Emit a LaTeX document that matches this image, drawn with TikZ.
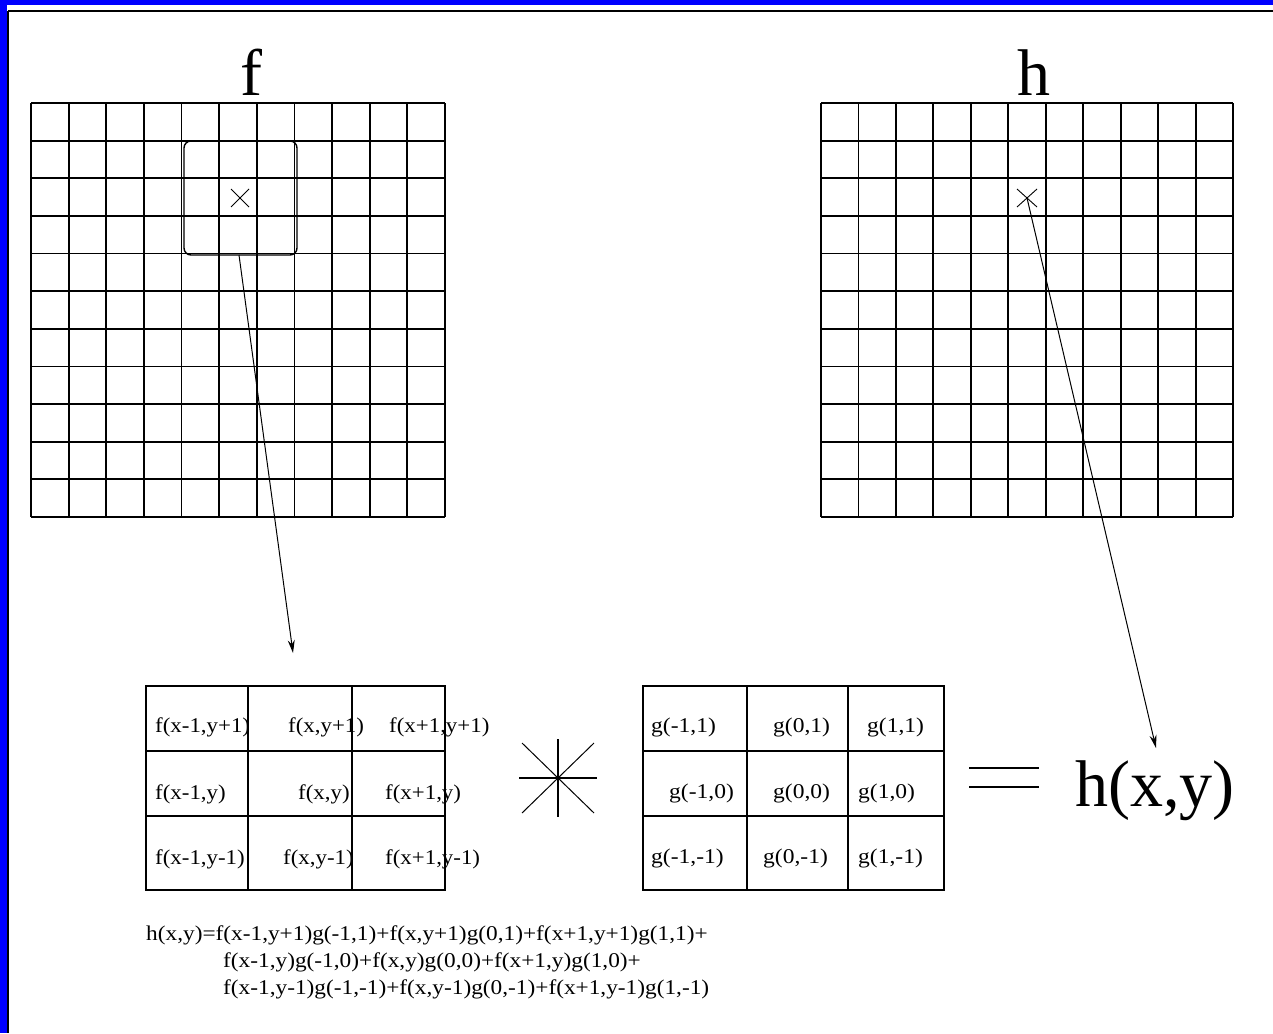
\documentclass[tikz,border=0pt]{standalone}
\usepackage{fontspec}
\usepackage{graphicx}
\setmainfont{Liberation Serif}
\usetikzlibrary{arrows.meta,calc}
% text set slightly wide, as in the printed figure
\newcommand{\widetext}[2]{\scalebox{#1}[1]{#2}}
\begin{document}
\begin{tikzpicture}[x=1pt,y=-1pt,
  gridline/.style={line width=1.9pt},
  cellbox/.style={line width=1.9pt},
  cell/.style={font=\fontsize{21}{21}\selectfont, anchor=base west, inner sep=0pt},
  eqline/.style={font=\fontsize{21}{21}\selectfont, anchor=base west, inner sep=0pt},
  big/.style={font=\fontsize{66}{66}\selectfont, inner sep=0pt},
  cross/.style={line width=0.9pt},
  ptr/.style={line width=1pt, -{Stealth[length=13pt,width=7pt]}}
]
\useasboundingbox (0,0) rectangle (1273,1033);
\fill[white] (0,0) rectangle (1273,1033);

% window frame
\fill[blue] (0,0) rectangle (1273,5);
\fill[blue] (0,0) rectangle (7,1033);
\draw[line width=2pt] (8,11) -- (1273,11);
\draw[line width=2pt] (8,11) -- (8,1033);

% image f and image h, 11 x 11 pixels each
\foreach \i in {0,...,11} {
  \draw[gridline] ({31+\i*414/11},103) -- ({31+\i*414/11},517);
  \draw[gridline] (31,{103+\i*414/11}) -- (445,{103+\i*414/11});
  \draw[gridline] ({821+\i*412/11},103) -- ({821+\i*412/11},517);
  \draw[gridline] (821,{103+\i*414/11}) -- (1233,{103+\i*414/11});
}
\node[big, anchor=base] (flabel) at (251,95) {f};
\node[big, anchor=base] (hlabel) at (1034,95) {h};

% 3x3 neighbourhood around (x,y) in f
\draw[line width=1.4pt, rounded corners=7pt] (184,141) rectangle (297,255);
\coordinate (fpt) at (240,198);
\draw[cross] ($(fpt)+(-9,-9)$) -- ($(fpt)+(9,9)$);
\draw[cross] ($(fpt)+(9,-9)$) -- ($(fpt)+(-9,9)$);
\coordinate (win) at (239,255);

% target pixel in h
\coordinate (hpt) at (1027,198);
\draw[cross] ($(hpt)+(-10,-9)$) -- ($(hpt)+(10,9)$);
\draw[cross] ($(hpt)+(10,-9)$) -- ($(hpt)+(-10,9)$);

% neighbourhood values of f
\draw[cellbox] (146,686) rectangle (445,890);
\draw[cellbox] (248,686) -- (248,890) (352,686) -- (352,890)
               (146,751) -- (445,751) (146,816) -- (445,816);
\coordinate (fin) at (293,653);
\node[cell] (f11) at (155,732) {\widetext{1.09}{f(x-1,y+1)}};
\node[cell] (f12) at (288,732) {\widetext{1.09}{f(x,y+1)}};
\node[cell] (f13) at (389,732) {\widetext{1.09}{f(x+1,y+1)}};
\node[cell] (f21) at (155,799) {\widetext{1.09}{f(x-1,y)}};
\node[cell] (f22) at (298,799) {\widetext{1.09}{f(x,y)}};
\node[cell] (f23) at (385,799) {\widetext{1.09}{f(x+1,y)}};
\node[cell] (f31) at (155,864) {\widetext{1.09}{f(x-1,y-1)}};
\node[cell] (f32) at (283,864) {\widetext{1.09}{f(x,y-1)}};
\node[cell] (f33) at (385,864) {\widetext{1.09}{f(x+1,y-1)}};

% convolution operator
\coordinate (conv) at (558,778);
\draw[line width=1.5pt] ($(conv)+(0,-39)$) -- ($(conv)+(0,39)$);
\draw[line width=1.5pt] ($(conv)+(-39,0)$) -- ($(conv)+(39,0)$);
\draw[line width=1pt] ($(conv)+(-36,-35)$) -- ($(conv)+(36,35)$);
\draw[line width=1pt] ($(conv)+(36,-35)$) -- ($(conv)+(-36,35)$);

% kernel g
\draw[cellbox] (643,686) rectangle (944,890);
\draw[cellbox] (747,686) -- (747,890) (848,686) -- (848,890)
               (643,751) -- (944,751) (643,816) -- (944,816);
\node[cell] (g11) at (651,732) {\widetext{1.12}{g(-1,1)}};
\node[cell] (g12) at (773,732) {\widetext{1.12}{g(0,1)}};
\node[cell] (g13) at (867,732) {\widetext{1.12}{g(1,1)}};
\node[cell] (g21) at (669,798) {\widetext{1.12}{g(-1,0)}};
\node[cell] (g22) at (773,798) {\widetext{1.12}{g(0,0)}};
\node[cell] (g23) at (858,798) {\widetext{1.12}{g(1,0)}};
\node[cell] (g31) at (651,863) {\widetext{1.12}{g(-1,-1)}};
\node[cell] (g32) at (763,863) {\widetext{1.12}{g(0,-1)}};
\node[cell] (g33) at (858,863) {\widetext{1.12}{g(1,-1)}};

% result
\draw[line width=1.8pt] (969,768) -- (1039,768) (969,787) -- (1039,787);
\node[big, anchor=base west] (hxy) at (1075,806) {h(x,y)};
\coordinate (hin) at (1156,748);

% pointers
\draw[ptr] (win) -- (fin);
\draw[ptr] (hpt) -- (hin);

% expanded sum
\node[eqline] (eq1) at (146,940) {\widetext{1.11}{h(x,y)=f(x-1,y+1)g(-1,1)+f(x,y+1)g(0,1)+f(x+1,y+1)g(1,1)+}};
\node[eqline] (eq2) at (223,967) {\widetext{1.11}{f(x-1,y)g(-1,0)+f(x,y)g(0,0)+f(x+1,y)g(1,0)+}};
\node[eqline] (eq3) at (223,994) {\widetext{1.11}{f(x-1,y-1)g(-1,-1)+f(x,y-1)g(0,-1)+f(x+1,y-1)g(1,-1)}};
\end{tikzpicture}
\end{document}
